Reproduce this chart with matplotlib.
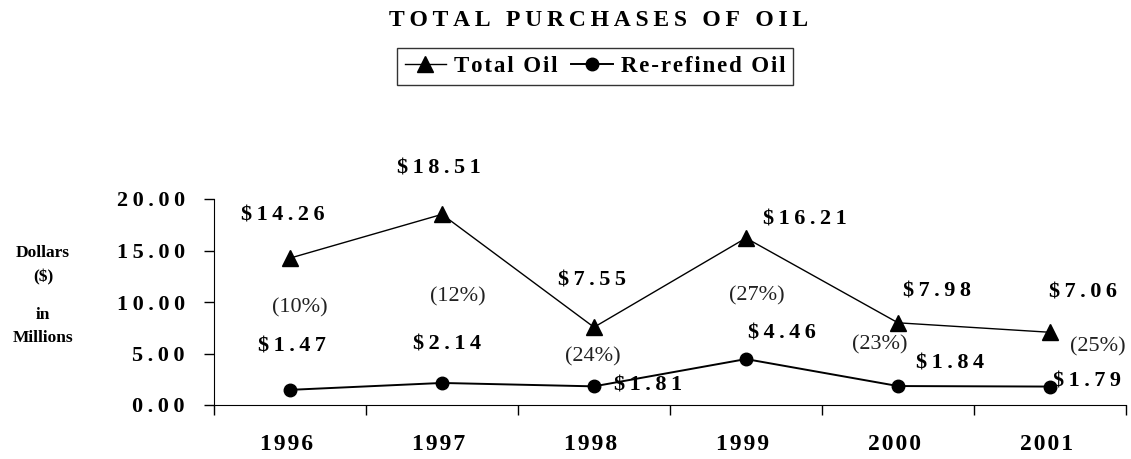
import matplotlib
matplotlib.use("Agg")
import matplotlib.pyplot as plt
from matplotlib.lines import Line2D

years = ["1996", "1997", "1998", "1999", "2000", "2001"]
total_oil = [14.26, 18.51, 7.55, 16.21, 7.98, 7.06]
rerefined_oil = [1.47, 2.14, 1.81, 4.46, 1.84, 1.79]
share_labels = ["(10%)", "(12%)", "(24%)", "(27%)", "(23%)", "(25%)"]
ytick_values = [0, 5, 10, 15, 20]
ytick_labels = ["0.00", "5.00", "10.00", "15.00", "20.00"]
ylabel_lines = ["Dollars", "($)", "in", "Millions"]

# label offsets in pixels (layout only)
total_off = [(-7, 43), (-3, 46), (-2, 47), (59, 19), (39, 31), (33, 40)]
share_off = [(10, -50), (16, -83), (-1, -30), (11, -58), (-18, -22), (48, -15)]
rr_off = [(2, 43), (5, 38), (54, 1), (36, 26), (52, 23), (37, 5)]
ylabel_y = [253, 277, 315, 338]

SERIF = ["Liberation Serif", "DejaVu Serif"]


def spaced(s, sep="\u2009"):
    return sep.join(s)


fig = plt.figure(figsize=(11.31, 4.59), dpi=100)
ax = fig.add_axes([214 / 1131, 1 - 405 / 459, (1126 - 214) / 1131, (405 - 199) / 459])

x = [i + 0.5 for i in range(len(years))]
ax.plot(x, total_oil, color="black", lw=1, marker="^", ms=11, label="Total Oil")
ax.plot(x, rerefined_oil, color="black", lw=1.4, marker="o", ms=9, label="Re-refined Oil")

ax.set_xlim(0, len(years))
ax.set_ylim(0, 20)
for s in ["top", "right"]:
    ax.spines[s].set_visible(False)
ax.spines["left"].set_bounds(0, 20)

ax.set_xticks(range(len(years) + 1))
ax.set_xticklabels([])
ax.tick_params(axis="x", direction="out", length=7, width=1)
ax.set_yticks(ytick_values)
ax.set_yticklabels([spaced(t) for t in ytick_labels], family=SERIF,
                   fontweight="bold", fontsize=16)
ax.tick_params(axis="y", direction="out", length=7, width=1, pad=14)

for xi, yr in zip(x, years):
    ax.annotate(spaced(yr, "\u200a"), (xi, 0), xytext=(-3, -40), textcoords="offset pixels",
                ha="center", va="center", family=SERIF, fontweight="bold",
                fontsize=17)

for xi, v, off in zip(x, total_oil, total_off):
    ax.annotate(spaced(f"${v:.2f}"), (xi, v), xytext=off, textcoords="offset pixels",
                ha="center", va="center", family=SERIF, fontweight="bold", fontsize=16)
for xi, v, lab, off in zip(x, total_oil, share_labels, share_off):
    ax.annotate(lab, (xi, v), xytext=off, textcoords="offset pixels",
                ha="center", va="center", family=SERIF, fontsize=16, color="#222222")
for xi, v, off in zip(x, rerefined_oil, rr_off):
    ax.annotate(spaced(f"${v:.2f}"), (xi, v), xytext=off, textcoords="offset pixels",
                ha="center", va="center", family=SERIF, fontweight="bold", fontsize=16)

for line, yy in zip(ylabel_lines, ylabel_y):
    fig.text(43 / 1131, 1 - yy / 459, line, ha="center", va="center",
             family=SERIF, fontweight="bold", fontsize=12.5)

fig.text(599 / 1131, 1 - 20 / 459, spaced("TOTAL PURCHASES OF OIL"), ha="center",
         va="center", family=SERIF, fontweight="bold", fontsize=17)

handles = [Line2D([], [], color="black", lw=1, marker="^", ms=11),
           Line2D([], [], color="black", lw=1.4, marker="o", ms=9)]
leg = fig.legend(handles, [spaced("Total Oil", "\u200a"), spaced("Re-refined Oil", "\u200a")],
                 loc="center", bbox_to_anchor=(595 / 1131, 1 - 66.5 / 459), ncol=2,
                 frameon=True, fancybox=False, edgecolor="black", handlelength=1.8,
                 handletextpad=0.35, columnspacing=0.6, borderpad=0.35,
                 prop={"family": SERIF, "weight": "bold", "size": 16.5})
leg.get_frame().set_linewidth(1)

fig.savefig("out.png", dpi=100)
